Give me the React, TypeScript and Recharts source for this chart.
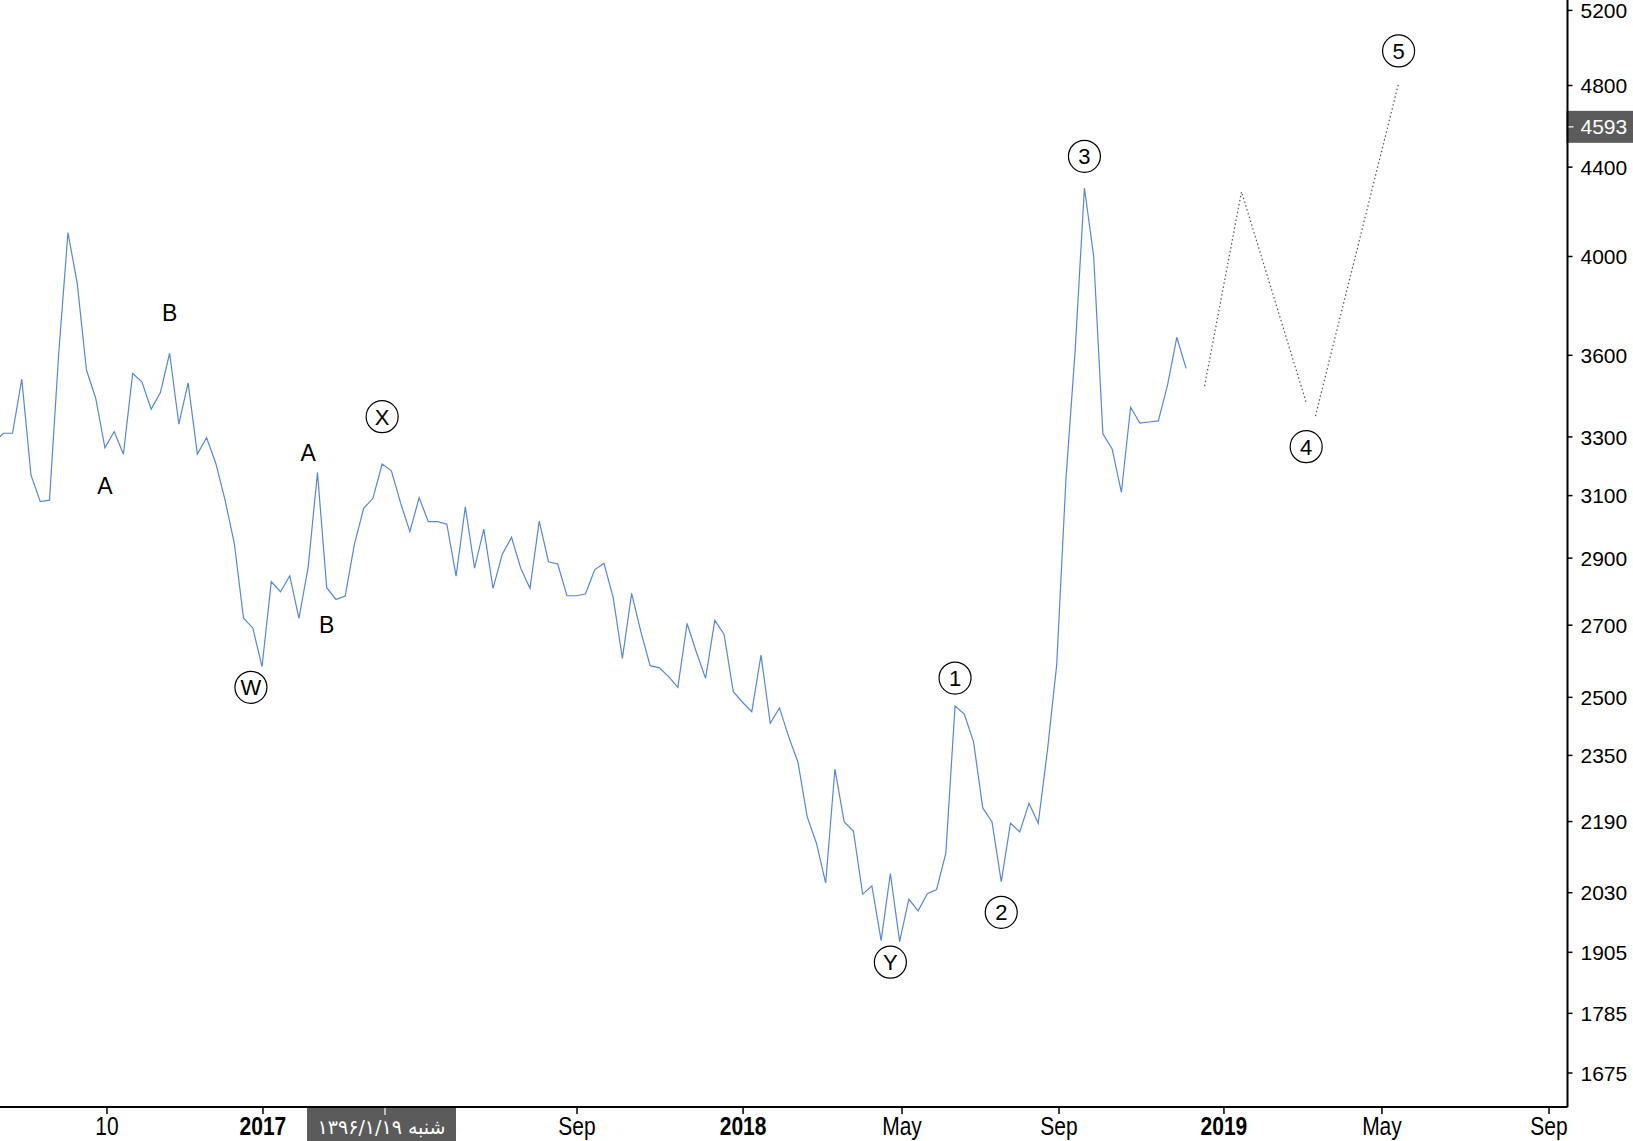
import React from "react";
import { LineChart, Line, XAxis, YAxis, ReferenceLine, ReferenceDot } from "recharts";

// weekly closes, first one sits just left of the plot (week -1)
const firstWeek = -1;
const closes = [
  3279, 3313, 3313, 3510, 3168, 3080, 3085, 3609, 4103, 3887,
  3544, 3439, 3262, 3319, 3240, 3531, 3500, 3399, 3460, 3608,
  3345, 3496, 3240, 3297, 3208, 3085, 2946, 2720, 2692, 2583,
  2828, 2798, 2846, 2720, 2874, 3177, 2810, 2775, 2785, 2944,
  3058, 3091, 3206, 3183, 3075, 2983, 3093, 3015, 3015, 3007,
  2845, 3063, 2869, 2991, 2808, 2912, 2965, 2869, 2808, 3017,
  2889, 2882, 2786, 2786, 2791, 2864, 2884, 2781, 2606, 2793,
  2681, 2586, 2580, 2556, 2527, 2705, 2624, 2551, 2714, 2674,
  2515, 2487, 2462, 2615, 2432, 2472, 2397, 2333, 2201, 2140,
  2051, 2316, 2189, 2168, 2027, 2045, 1929, 2072, 1927, 2016,
  1991, 2028, 2037, 2117, 2477, 2456, 2384, 2222, 2189, 2054,
  2186, 2166, 2233, 2186, 2363, 2588, 3155, 3620, 4303, 4002,
  3311, 3258, 3111, 3406, 3349, 3353, 3357, 3488, 3670, 3550,
];

// dotted projection (waves 4 and 5)
const projAWeeks = [130, 134, 141];
const projAValues = [3484, 4286, 3423];
const projBWeeks = [142, 151];
const projBValues = [3374, 4811];

// elliott wave labels
const waveText = ["A", "B", "W", "A", "B", "X", "Y", "1", "2", "3", "4", "5"];
const waveWeek = [11, 18, 26.8, 33, 35, 41, 96, 103, 108, 117, 141, 151];
const waveValue = [3134, 3768, 2527, 3244, 2700, 3372, 1885, 2552, 1988, 4451, 3266, 4980];
const waveCircled = [false, false, true, false, false, true, true, true, true, true, true, true];

const xTickPos = [11.22, 28.1, 62.09, 80.06, 97.26, 114.25, 132.1, 149.2, 167.28];
const xTickLabels = ["10", "2017", "Sep", "2018", "May", "Sep", "2019", "May", "Sep"];
const yTicks = [1675, 1785, 1905, 2030, 2190, 2350, 2500, 2700, 2900, 3100, 3300, 3600, 4000, 4400, 4800, 5200];

const lastPrice = 4593;
const cursorWeek = 41.31;
const cursorLabel = "شنبه ۱۳۹۶/۱/۱۹";

const data = closes.map((v, k) => ({ i: firstWeek + k, v }));
const projA = projAWeeks.map((i, k) => ({ i, v: projAValues[k] }));
const projB = projBWeeks.map((i, k) => ({ i, v: projBValues[k] }));

const SANS = "Liberation Sans, Arial, sans-serif";
const FLAG = "#5b5b5b";

function XTick(props: any) {
  const { x, y, payload } = props;
  const k = xTickPos.findIndex((p) => Math.abs(p - payload.value) < 1e-6);
  const label = xTickLabels[k] ?? "";
  const bold = /^\d{4}$/.test(label);
  return (
    <text
      transform={`translate(${x},${y + 19}) scale(0.84,1)`}
      textAnchor="middle"
      fontFamily={SANS}
      fontSize={25}
      fontWeight={bold ? 700 : 400}
      fill="#000"
    >
      {label}
    </text>
  );
}

function YTick(props: any) {
  const { x, y, payload } = props;
  return (
    <text x={x} y={y} dy="0.36em" textAnchor="start" fontFamily={SANS} fontSize={21} fill="#000">
      {payload.value}
    </text>
  );
}

function PriceFlag(props: any) {
  const vb = props.viewBox || {};
  const left = vb.x + vb.width;
  const cy = vb.y;
  return (
    <g>
      <rect x={left - 1} y={cy - 16} width={80} height={32} fill={FLAG} />
      <line x1={left} x2={left + 6} y1={cy} y2={cy} stroke="#ddd" strokeWidth={1.5} />
      <text x={left + 13} y={cy} dy="0.36em" fontFamily={SANS} fontSize={21} fill="#fff">
        {lastPrice}
      </text>
    </g>
  );
}

function DateFlag(props: any) {
  const vb = props.viewBox || {};
  const cx = vb.x;
  const bottom = vb.y + vb.height;
  return (
    <g>
      <rect x={cx - 78} y={bottom + 1} width={149} height={40} fill={FLAG} />
      <line x1={cx} x2={cx} y1={bottom + 1} y2={bottom + 8} stroke="#ddd" strokeWidth={1.5} />
      <text
        x={cx - 3.5}
        y={bottom + 27}
        textAnchor="middle"
        fontFamily="DejaVu Sans, Noto Sans, sans-serif"
        fontSize={20}
        fill="#fff"
        textLength={128}
        lengthAdjust="spacingAndGlyphs"
      >
        {cursorLabel}
      </text>
    </g>
  );
}

function WaveMark(props: any) {
  const { cx, cy, text, circled } = props;
  if (cx == null || cy == null) return null;
  return (
    <g>
      {circled && <circle cx={cx} cy={cy} r={16} fill="#fff" stroke="#000" strokeWidth={1.2} />}
      <text
        x={cx}
        y={cy}
        dy="0.36em"
        textAnchor="middle"
        fontFamily={SANS}
        fontSize={circled ? 22 : 23}
        fill="#000"
      >
        {text}
      </text>
    </g>
  );
}

export default function App() {
  return (
    <div style={{ position: "absolute", left: 0, top: 0, width: 1633, height: 1141, background: "#fff" }}>
      <LineChart width={1633} height={1141} data={data} margin={{ top: 0, right: 0, bottom: 0, left: 0 }}>
        <XAxis
          type="number"
          dataKey="i"
          domain={[-0.357, 169.28]}
          allowDataOverflow
          ticks={xTickPos}
          interval={0}
          height={34}
          axisLine={{ stroke: "#000", strokeWidth: 2 }}
          tickLine={{ stroke: "#000", strokeWidth: 1.5 }}
          tickSize={7}
          tickMargin={2}
          tick={<XTick />}
        />
        <YAxis
          orientation="right"
          scale="log"
          domain={[1615.4, 5258]}
          allowDataOverflow
          ticks={yTicks}
          interval={0}
          width={65.5}
          axisLine={{ stroke: "#000", strokeWidth: 2 }}
          tickLine={{ stroke: "#000", strokeWidth: 1.5 }}
          tickSize={5}
          tickMargin={8}
          tick={<YTick />}
        />
        <Line
          type="linear"
          dataKey="v"
          stroke="#5687d9"
          strokeWidth={1.2}
          dot={false}
          activeDot={false}
          isAnimationActive={false}
        />
        <Line
          data={projA}
          type="linear"
          dataKey="v"
          stroke="#555"
          strokeWidth={1.2}
          strokeDasharray="1.5 2.5"
          dot={false}
          activeDot={false}
          isAnimationActive={false}
        />
        <Line
          data={projB}
          type="linear"
          dataKey="v"
          stroke="#555"
          strokeWidth={1.2}
          strokeDasharray="1.5 2.5"
          dot={false}
          activeDot={false}
          isAnimationActive={false}
        />
        {waveText.map((t, k) => (
          <ReferenceDot
            key={k}
            x={waveWeek[k]}
            y={waveValue[k]}
            r={16}
            shape={(p: any) => <WaveMark {...p} text={t} circled={waveCircled[k]} />}
          />
        ))}
        <ReferenceLine y={lastPrice} stroke="none" label={<PriceFlag />} />
        <ReferenceLine x={cursorWeek} stroke="none" label={<DateFlag />} />
      </LineChart>
    </div>
  );
}
